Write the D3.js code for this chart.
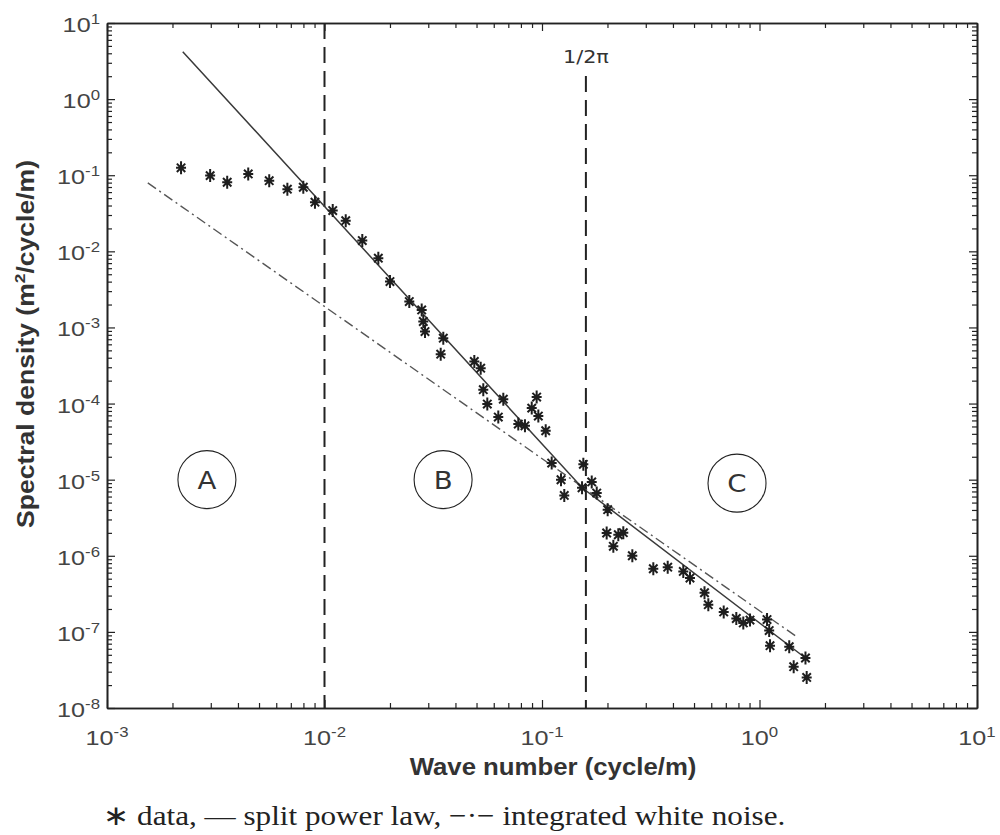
<!DOCTYPE html>
<html>
<head>
<meta charset="utf-8">
<script src="https://cdn.jsdelivr.net/npm/d3@7"></script>
<style>
  body { margin: 0; background: #fff; }
  svg { display: block; }
</style>
</head>
<body>
<svg id="chart" width="1000" height="835"></svg>
<script>
// ---- Measured wave-number spectrum (cycle/m, m^2/cycle/m) ----
const waveNumber = [
  0.00219, 0.00298, 0.00357, 0.00446, 0.00557, 0.00675, 0.00799, 0.00904,
  0.01091, 0.01252, 0.01492, 0.01768, 0.0200, 0.02454, 0.02798, 0.02846,
  0.02898, 0.03517, 0.03422, 0.04884, 0.05226, 0.05371, 0.05604, 0.06639,
  0.06296, 0.0778, 0.0835, 0.0945, 0.0897, 0.0962, 0.104, 0.1108,
  0.1223, 0.1266, 0.1549, 0.1693, 0.1528, 0.1785, 0.2004, 0.1983,
  0.2243, 0.2365, 0.2128, 0.2602, 0.3249, 0.3784, 0.4463, 0.4791,
  0.5587, 0.5817, 0.6846, 0.7823, 0.8424, 0.9044, 1.083, 1.108,
  1.118, 1.370, 1.627, 1.436, 1.648
];
const spectralDensity = [
  0.125, 0.0988, 0.0809, 0.104, 0.0849, 0.0655, 0.0695, 0.0442,
  0.0343, 0.0253, 0.01384, 0.00813, 0.00401, 0.00219, 0.00170, 0.001196,
  0.000883, 0.000723, 0.000446, 0.000357, 0.000292, 0.000152, 9.84e-5, 1.143e-4,
  6.64e-5, 5.37e-5, 5.10e-5, 1.216e-4, 8.71e-5, 6.84e-5, 4.39e-5, 1.65e-5,
  9.97e-6, 6.21e-6, 1.59e-5, 9.33e-6, 7.83e-6, 6.67e-6, 4.03e-6, 1.99e-6,
  1.89e-6, 2.01e-6, 1.33e-6, 1.00e-6, 6.76e-7, 7.08e-7, 6.23e-7, 5.11e-7,
  3.27e-7, 2.28e-7, 1.83e-7, 1.50e-7, 1.31e-7, 1.43e-7, 1.45e-7, 1.04e-7,
  6.59e-8, 6.39e-8, 4.54e-8, 3.49e-8, 2.52e-8
];

// ---- Split power-law fit (two segments, break near 1/2π) ----
const powerLawK = [0.00223, 0.153, 1.627];
const powerLawS = [4.20, 7.83e-6, 4.54e-8];

// ---- Integrated white noise reference ----
const whiteNoiseK = [0.00154, 1.503];
const whiteNoiseS = [0.0793, 8.4e-8];

// ---- Regime boundaries and region markers ----
const boundaryK = [0.01, 1 / (2 * Math.PI)];
const boundaryLabels = ["", "1/2π"];
const regionNames = ["A", "B", "C"];
const regionK = [0.00288, 0.0351, 0.788];
const regionS = [1e-5, 1e-5, 9e-6];

// ---- Axis ticks and texts ----
const xTickExponents = ["-3", "-2", "-1", "0", "1"];
const yTickExponents = ["1", "0", "-1", "-2", "-3", "-4", "-5", "-6", "-7", "-8"];
const xTitle = "Wave number (cycle/m)";
const yTitleParts = ["Spectral density (m", "2", "/cycle/m)"];
const caption = "\u2217 data, \u2014 split power law, \u2212\u00b7\u2212 integrated white noise.";

// ---- Layout ----
const plot = { left: 107, right: 977, top: 23, bottom: 708 };
const svg = d3.select("#chart");

const x = d3.scaleLog().domain([1e-3, 1e1]).range([plot.left, plot.right]);
const y = d3.scaleLog().domain([1e-8, 1e1]).range([plot.bottom, plot.top]);

const isDecade = v => Math.abs(Math.log10(v) - Math.round(Math.log10(v))) < 1e-6;
const xMajor = xTickExponents.map(e => Math.pow(10, +e));
const yMajor = yTickExponents.map(e => Math.pow(10, +e));
const xMinor = x.ticks().filter(v => !isDecade(v));
const yMinor = y.ticks().filter(v => !isDecade(v));

// Axes: ticks point inward on all four sides
const axisColor = "#222";
function drawAxis(gen, translate, values, size) {
  const g = svg.append("g")
    .attr("transform", translate)
    .call(gen.tickValues(values).tickSize(-size).tickSizeOuter(0).tickFormat(""));
  g.selectAll(".tick line").attr("stroke", axisColor).attr("stroke-width", 1.2);
  g.select(".domain").attr("stroke", axisColor).attr("stroke-width", 1.6);
  return g;
}
const sides = [
  [d3.axisBottom, `translate(0,${plot.bottom})`, x, xMinor, xMajor],
  [d3.axisTop, `translate(0,${plot.top})`, x, xMinor, xMajor],
  [d3.axisLeft, `translate(${plot.left},0)`, y, yMinor, yMajor],
  [d3.axisRight, `translate(${plot.right},0)`, y, yMinor, yMajor]
];
sides.forEach(([fn, tr, sc, minor, major]) => {
  drawAxis(fn(sc), tr, minor, 5);
  drawAxis(fn(sc), tr, major, 8);
});

// Power-of-ten tick labels with superscript exponents
const labelColor = "#444";
function powerLabel(px, py, exp, anchor) {
  const t = svg.append("text")
    .attr("transform", `translate(${px},${py}) scale(1.2,1)`)
    .attr("text-anchor", anchor)
    .attr("font-family", "'Liberation Sans', Arial, sans-serif")
    .attr("font-size", 21)
    .attr("fill", labelColor);
  t.append("tspan").text("10");
  t.append("tspan").attr("font-size", 14).attr("dy", -8).text(exp);
}
xTickExponents.forEach((e, i) => powerLabel(x(xMajor[i]), 745, e, "middle"));
yTickExponents.forEach((e, i) => powerLabel(100, y(yMajor[i]) + 9, e, "end"));

// Stretch a text element to a given length along its own direction
function fitLength(sel, target, baseTransform) {
  const len = sel.node().getComputedTextLength();
  sel.attr("transform", `${baseTransform} scale(${target / len},1)`);
}

// Axis titles
const xt = svg.append("text")
  .attr("text-anchor", "middle")
  .attr("font-family", "'Liberation Sans', Arial, sans-serif")
  .attr("font-weight", "bold").attr("font-size", 23).attr("fill", "#333")
  .text(xTitle);
fitLength(xt, 287, "translate(553,775)");

const yt = svg.append("text")
  .attr("text-anchor", "middle")
  .attr("font-family", "'Liberation Sans', Arial, sans-serif")
  .attr("font-weight", "bold").attr("font-size", 23).attr("fill", "#333");
yt.append("tspan").text(yTitleParts[0]);
yt.append("tspan").attr("font-size", 15).attr("dy", -9).text(yTitleParts[1]);
yt.append("tspan").attr("dy", 9).text(yTitleParts[2]);
fitLength(yt, 368, "translate(34,344) rotate(-90)");

// Regime boundary lines
boundaryK.forEach((k, i) => {
  const top = boundaryLabels[i] ? 76 : plot.top;
  svg.append("line")
    .attr("x1", x(k)).attr("x2", x(k))
    .attr("y1", top).attr("y2", plot.bottom)
    .attr("stroke", "#222").attr("stroke-width", 2)
    .attr("stroke-dasharray", "16,8");
  if (boundaryLabels[i]) {
    const lt = svg.append("text")
      .attr("text-anchor", "middle")
      .attr("font-family", "'DejaVu Sans', sans-serif")
      .attr("font-size", 17).attr("fill", "#333")
      .text(boundaryLabels[i]);
    fitLength(lt, 46, `translate(${x(k)},63)`);
  }
});

// Integrated white noise (dash-dot)
const line = d3.line().x(d => x(d[0])).y(d => y(d[1]));
svg.append("path")
  .datum(d3.zip(whiteNoiseK, whiteNoiseS))
  .attr("d", line)
  .attr("fill", "none").attr("stroke", "#555").attr("stroke-width", 1.4)
  .attr("stroke-dasharray", "10,4,2,4");

// Split power law (solid)
svg.append("path")
  .datum(d3.zip(powerLawK, powerLawS))
  .attr("d", line)
  .attr("fill", "none").attr("stroke", "#3a3a3a").attr("stroke-width", 1.5);

// Data points as asterisks
const star = "M0,-6.5V6.5M-5,0H5M-4.2,-4.2L4.2,4.2M-4.2,4.2L4.2,-4.2";
svg.append("g").selectAll("path")
  .data(d3.zip(waveNumber, spectralDensity))
  .join("path")
  .attr("transform", d => `translate(${x(d[0])},${y(d[1])})`)
  .attr("d", star)
  .attr("fill", "none").attr("stroke", "#1e1e1e").attr("stroke-width", 2);

// Region markers
regionNames.forEach((name, i) => {
  const cx = x(regionK[i]), cy = y(regionS[i]);
  svg.append("circle")
    .attr("cx", cx).attr("cy", cy).attr("r", 29)
    .attr("fill", "none").attr("stroke", "#222").attr("stroke-width", 1.1);
  svg.append("text")
    .attr("transform", `translate(${cx},${cy + 9}) scale(1.15,1)`)
    .attr("text-anchor", "middle")
    .attr("font-family", "'DejaVu Sans', sans-serif")
    .attr("font-size", 24).attr("fill", "#333")
    .text(name);
});

// Caption
const cap = svg.append("text")
  .attr("font-family", "'Liberation Serif', 'Times New Roman', serif")
  .attr("font-size", 28).attr("fill", "#222")
  .text(caption);
fitLength(cap, 682, "translate(103,825)");
</script>
</body>
</html>
